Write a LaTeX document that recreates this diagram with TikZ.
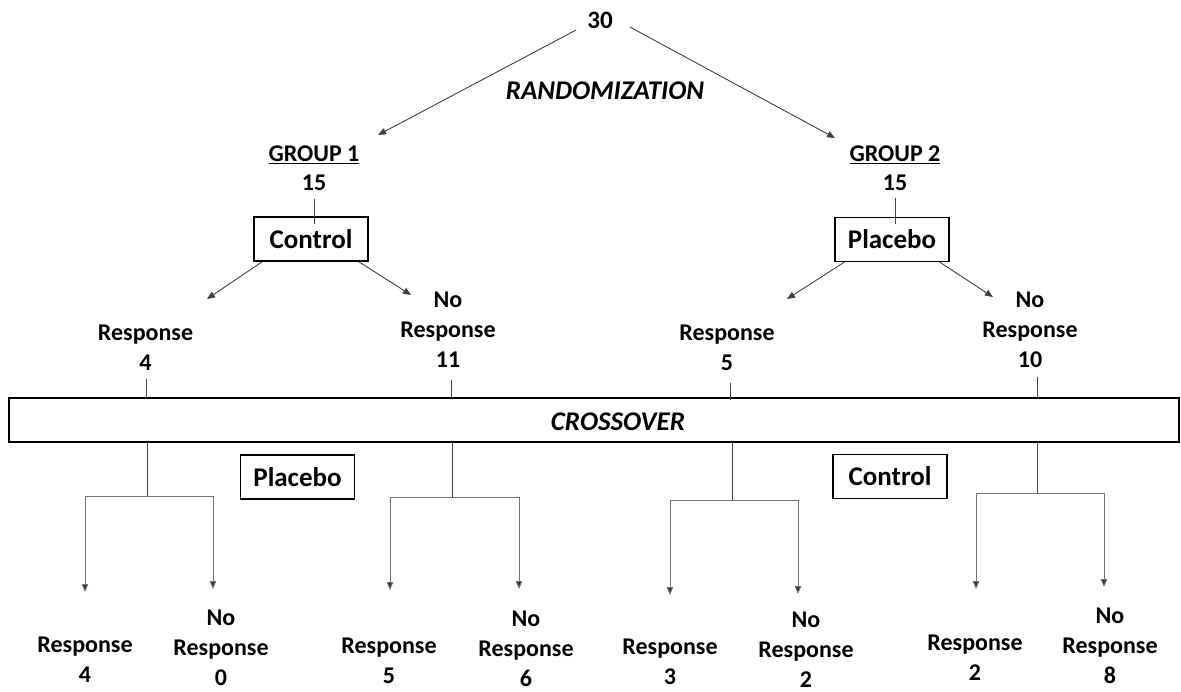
\documentclass[tikz,border=0pt]{standalone}
\usepackage{fontspec}
\setmainfont{Carlito}
\usetikzlibrary{arrows.meta}
\tikzset{
  lab/.style={font=\fontsize{24}{30}\selectfont\bfseries, align=center, inner sep=0pt, anchor=north},
  boxlab/.style={draw=black, line width=1.3pt, font=\fontsize{27}{32}\selectfont\bfseries, minimum width=114pt, minimum height=44pt, inner sep=0pt},
  big/.style={font=\fontsize{27}{32}\selectfont\bfseries\itshape, inner sep=0pt},
  ln/.style={draw=black!75, line width=0.9pt},
  arr/.style={draw=black!75, line width=0.9pt, -{Triangle[length=8pt,width=6.5pt]}},
  arrarm/.style={draw=black!55, line width=0.9pt, -{Triangle[length=8pt,width=6.5pt,fill=black!80]}}
}
\begin{document}
\begin{tikzpicture}[x=1pt,y=-1pt]
\useasboundingbox (0,0) rectangle (1181,692);
% top
\node[font=\fontsize{25}{30}\selectfont\bfseries, inner sep=0pt] (n30) at (600,20) {30};
\node[big] (rand) at (605,91) {RANDOMIZATION};
\node[lab] (g1) at (314,146) {\underline{GROUP 1}};
\node[lab] (g1n) at (314,175) {15};
\node[lab] (g2) at (895,146) {\underline{GROUP 2}};
\node[lab] (g2n) at (895,175) {15};
\coordinate (t1) at (378,135);
\coordinate (t2) at (835,138);
\draw[arr] ([shift={(-11,10)}]n30.west) -- (t1);
\draw[arr] ([shift={(17,7)}]n30.east) -- (t2);
% first treatment boxes
\node[boxlab] (ctrl) at (311,239) {Control};
\node[boxlab] (plac) at (892,239.5) {Placebo};
\draw[ln] ([yshift=-8pt]g1n.south) -- ([yshift=-8pt]g1n.south |- ctrl.north);
\draw[ln] ([yshift=-7pt]g2n.south) -- ([yshift=-7pt]g2n.south |- plac.north);
\coordinate (c1) at (207,299);
\coordinate (c2) at (411,295);
\coordinate (p1) at (787,299);
\coordinate (p2) at (993,297);
\draw[arr] ([xshift=9pt]ctrl.south west) -- (c1);
\draw[arr] ([xshift=-10pt]ctrl.south east) -- (c2);
\draw[arr] ([xshift=10pt]plac.south west) -- (p1);
\draw[arr] ([xshift=-10pt]plac.south east) -- (p2);
% first outcomes
\node[lab] (r1) at (145.5,325) {Response\\4};
\node[lab] (nr1) at (448,292) {No\\Response\\11};
\node[lab] (r2) at (727,325) {Response\\5};
\node[lab] (nr2) at (1030,292) {No\\Response\\10};
% crossover
\node[draw=black, line width=1.3pt, minimum width=1170pt, minimum height=44pt, inner sep=0pt] (cross) at (594,420) {};
\node[big] (crosst) at (618,422) {CROSSOVER};
\coordinate (k1) at (146,379);
\coordinate (k2) at (451,380);
\coordinate (k3) at (730,383);
\coordinate (k4) at (1037,377);
\draw[ln] (k1) -- (k1 |- cross.north);
\draw[ln] (k2) -- (k2 |- cross.north);
\draw[ln] (k3) -- ([yshift=-3pt]k3 |- cross.north);
\draw[ln] (k4) -- (k4 |- cross.north);
% second treatment boxes
\node[boxlab] (plac2) at (297.5,477) {Placebo};
\node[boxlab] (ctrl2) at (890,476.5) {Control};
% brackets
\coordinate (jA) at (147,496);
\coordinate (jB) at (452,497);
\coordinate (jC) at (732,500);
\coordinate (jD) at (1037,493);
\draw[ln] (jA |- cross.south) -- (jA);
\draw[ln] (jB |- cross.south) -- (jB);
\draw[ln] (jC |- cross.south) -- (jC);
\draw[ln] (jD |- cross.south) -- (jD);
\coordinate (aA1) at (85,592);  \coordinate (aA2) at (213,589);
\coordinate (aB1) at (390,590); \coordinate (aB2) at (519,589);
\coordinate (aC1) at (670,595); \coordinate (aC2) at (798,594);
\coordinate (aD1) at (976,589); \coordinate (aD2) at (1104,587);
\draw[arrarm] (jA) -| (aA1);
\draw[arrarm] (jA) -| (aA2);
\draw[arrarm] (jB) -| (aB1);
\draw[arrarm] (jB) -| (aB2);
\draw[arrarm] (jC) -| (aC1);
\draw[arrarm] (jC) -| (aC2);
\draw[arrarm] (jD) -| (aD1);
\draw[arrarm] (jD) -| (aD2);
% final outcomes
\node[lab] (rA) at (85,637) {Response\\4};
\node[lab] (nA) at (221,610) {No\\Response\\0};
\node[lab] (rB) at (389,638) {Response\\5};
\node[lab] (nB) at (526,611) {No\\Response\\6};
\node[lab] (rC) at (670,639) {Response\\3};
\node[lab] (nC) at (806,612) {No\\Response\\2};
\node[lab] (rD) at (975,635) {Response\\2};
\node[lab] (nD) at (1110,608) {No\\Response\\8};
\end{tikzpicture}
\end{document}
